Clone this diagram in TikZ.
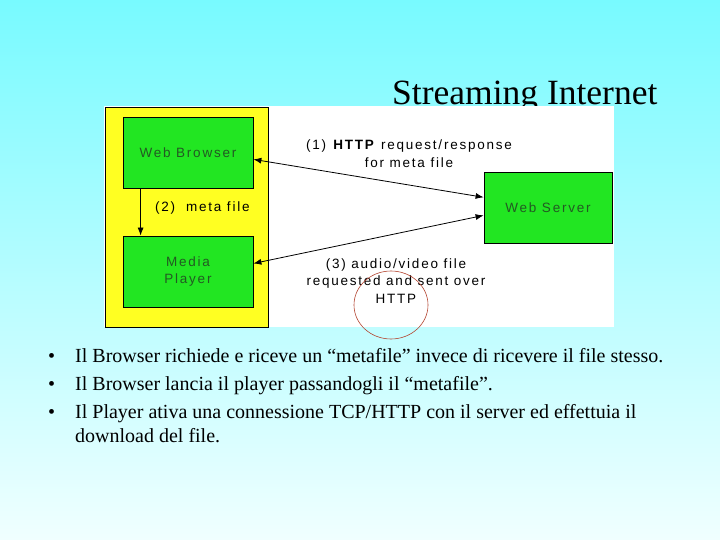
\documentclass[tikz,border=0pt]{standalone}
\usepackage{fontspec}
\setmainfont{Liberation Serif}
\setsansfont{Liberation Sans}
\newfontfamily\diagfont[LetterSpace=13]{Liberation Sans}
\usetikzlibrary{arrows.meta,calc}
\definecolor{bgtop}{RGB}{120,250,255}
\definecolor{bgbot}{RGB}{240,255,255}
\definecolor{boxgreen}{RGB}{34,230,34}
\definecolor{boxyellow}{RGB}{255,255,34}
\definecolor{boxtext}{RGB}{35,90,35}
\definecolor{circred}{RGB}{180,70,50}
\tikzset{
  gbox/.style={draw=black, line width=0.8pt, fill=boxgreen, minimum width=130pt, minimum height=71pt,
    inner sep=0pt, align=center, text=boxtext, font=\diagfont\fontsize{13.5}{17}\selectfont},
  lbl/.style={align=center, inner sep=0pt, font=\diagfont\fontsize{13.5}{17.5}\selectfont},
  conn/.style={line width=0.8pt, {Latex[length=8pt,width=6pt]}-{Latex[length=8pt,width=6pt]}},
  bul/.style={anchor=base west, inner sep=0pt, font=\fontsize{20}{24}\selectfont},
}
\begin{document}
\begin{tikzpicture}[x=1pt,y=-1pt]
\useasboundingbox (0,0) rectangle (720,540);
\shade[top color=bgtop, bottom color=bgbot] (0,0) rectangle (720,540);
\node[anchor=base west, inner sep=0pt, font=\fontsize{35.5}{40}\selectfont] (title) at (392,105) {Streaming Internet};
\fill[white] (104,106) rectangle (614,327);
\draw[line width=0.8pt, fill=boxyellow] (105,107) rectangle (268,327);
\node[gbox] (wb) at (188,152.5) {Web Browser};
\node[gbox] (mp) at (188,271.5) {Media\\Player};
\node[gbox, minimum width=128pt] (ws) at (548,207.5) {Web Server};
\draw[line width=0.8pt, -{Latex[length=8pt,width=6pt]}] ([xshift=18pt]wb.south west) -- ([xshift=18pt]mp.north west);
\node[lbl, anchor=west] (l2) at (155,208) {(2)\ \ meta file};
\draw[conn] (wb.-6.6) -- (ws.171.6);
\draw[conn] (mp.7.5) -- (ws.187.6);
\node[lbl] (l1) at (409,153.5) {(1) \textbf{HTTP} request/response\\for meta file};
\node[lbl] (l3) at (396,281) {(3) audio/video file\\requested and sent over\\HTTP};
\draw[circred, line width=0.6pt] (391,305) ellipse [x radius=37, y radius=34];
\node[bul] (b1) at (48,362) {•};
\node[bul] (t1) at (75,362) {Il Browser richiede e riceve un “metafile” invece di ricevere il file stesso.};
\node[bul] (b2) at (48,390) {•};
\node[bul] (t2) at (75,390) {Il Browser lancia il player passandogli il “metafile”.};
\node[bul] (b3) at (48,418) {•};
\node[bul] (t3) at (75,418) {Il Player ativa una connessione TCP/HTTP con il server ed effettuia il};
\node[bul] (t3b) at (75,442) {download del file.};
\end{tikzpicture}
\end{document}
